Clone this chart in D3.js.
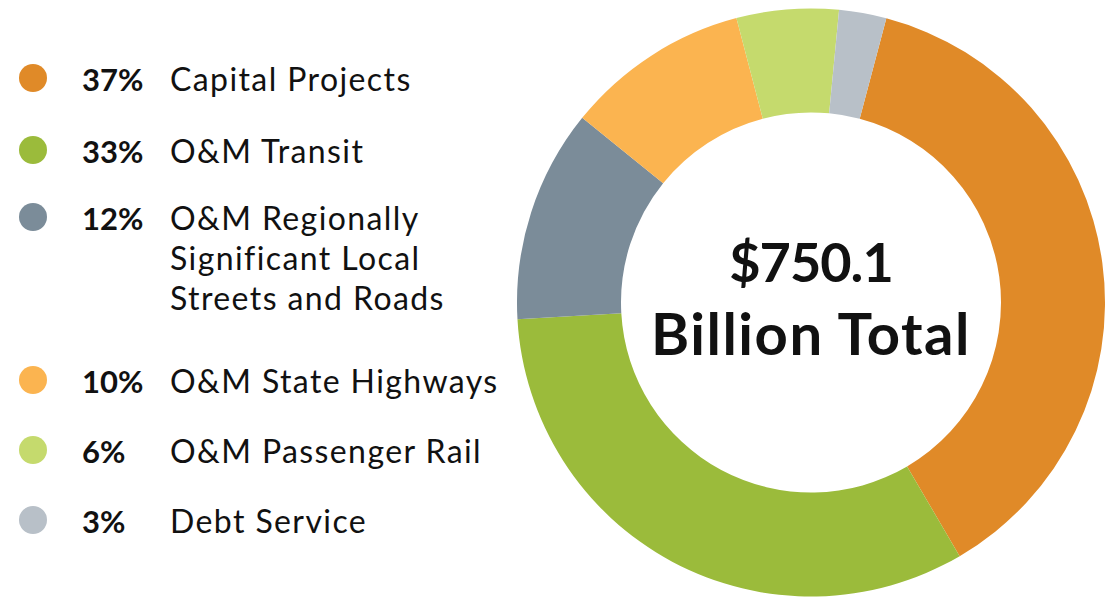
<html>
<head>
<script src="https://d3js.org/d3.v7.min.js"></script>
<style>
	body { margin: 0; background: #fff; }
	svg { display: block; }
	text { font-family: Lato, "Noto Sans", sans-serif; fill: #111; }
</style>
</head>
<body>
<svg width="1107" height="599"></svg>
<script>
// legend labels, printed shares, slice shares
var categories = ["Capital Projects", "O&M Transit", "O&M Regionally Significant Local Streets and Roads",
	"O&M State Highways", "O&M Passenger Rail", "Debt Service"];
var labelLines = [["Capital Projects"], ["O&M Transit"], ["O&M Regionally", "Significant Local", "Streets and Roads"],
	["O&M State Highways"], ["O&M Passenger Rail"], ["Debt Service"]];
var percents = ["37%", "33%", "12%", "10%", "6%", "3%"];
var shares = [37.4, 32.5, 11.7, 10.1, 5.6, 2.6];
var colors = ["#e08a28", "#9bbb3b", "#7b8c99", "#fbb450", "#c5da6d", "#b8c0c8"];
var totalLines = ["$750.1", "Billion Total"];

var svg = d3.select("svg");

// donut
var cx = 811, cy = 302.5;
var outerR = 294, innerR = 190;
var start = 14.85 * Math.PI / 180;

var pie = d3.pie().sort(null).value(function(d) { return d; })
	.startAngle(start).endAngle(start + 2 * Math.PI);
var arc = d3.arc().innerRadius(innerR).outerRadius(outerR);

var ring = svg.append("g").attr("transform", "translate(" + cx + "," + cy + ")");
ring.selectAll("path").data(pie(shares)).enter().append("path")
	.attr("d", arc)
	.attr("fill", function(d, i) { return colors[i]; });

ring.selectAll("text.total").data(totalLines).enter().append("text")
	.attr("class", "total")
	.attr("text-anchor", "middle")
	.attr("x", 0)
	.attr("y", function(d, i) { return -21 + i * 73; })
	.style("font-size", function(d, i) { return i == 0 ? "54px" : "58px"; })
	.style("letter-spacing", function(d, i) { return i == 0 ? "-1px" : "1.5px"; })
	.style("font-weight", "bold")
	.text(function(d) { return d; });

// legend
var rowY = [78, 150, 217, 380, 450, 520]; // circle centres
var legend = svg.append("g");
var rows = legend.selectAll("g").data(categories).enter().append("g")
	.attr("transform", function(d, i) { return "translate(0," + rowY[i] + ")"; });

rows.append("circle")
	.attr("cx", 33).attr("cy", 0).attr("r", 14)
	.attr("fill", function(d, i) { return colors[i]; });

rows.append("text")
	.attr("x", 82).attr("y", 13)
	.style("font-size", "31px")
	.style("font-weight", "bold")
	.text(function(d, i) { return percents[i]; });

rows.append("text")
	.attr("x", 170).attr("y", 13)
	.style("font-size", "32px")
	.style("letter-spacing", "1.4px")
	.selectAll("tspan").data(function(d, i) { return labelLines[i]; }).enter().append("tspan")
	.attr("x", 170)
	.attr("dy", function(d, j) { return j == 0 ? 0 : 40; })
	.text(function(d) { return d; });
</script>
</body>
</html>
